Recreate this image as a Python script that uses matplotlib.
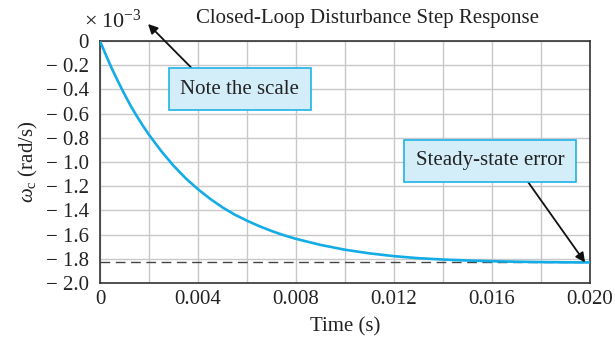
import matplotlib
matplotlib.use("Agg")
import matplotlib.pyplot as plt

plt.rcParams['font.family'] = ['Liberation Serif', 'DejaVu Serif']
plt.rcParams['mathtext.fontset'] = 'custom'
plt.rcParams['mathtext.rm'] = 'Liberation Serif'
plt.rcParams['mathtext.it'] = 'Liberation Serif:italic'

# values (response in units of 1e-3 rad/s)
time_s = [0.0, 0.00025, 0.0005, 0.00075, 0.001, 0.00125, 0.0015, 0.00175,
          0.002, 0.0025, 0.003, 0.0035, 0.004, 0.0045, 0.005, 0.0055, 0.006,
          0.0065, 0.007, 0.0075, 0.008, 0.009, 0.010, 0.011, 0.012, 0.013,
          0.014, 0.015, 0.016, 0.017, 0.018, 0.019, 0.020]
omega_c = [0.0, -0.12, -0.235, -0.34, -0.44, -0.535, -0.62, -0.70,
           -0.775, -0.91, -1.03, -1.135, -1.225, -1.305, -1.375, -1.435, -1.485,
           -1.53, -1.57, -1.605, -1.635, -1.685, -1.725, -1.755, -1.778, -1.795,
           -1.806, -1.814, -1.82, -1.824, -1.827, -1.829, -1.83]
steady_state = -1.83

x_tick_labels = ['0', '0.004', '0.008', '0.012', '0.016', '0.020']
y_ticks = [0, -0.2, -0.4, -0.6, -0.8, -1.0, -1.2, -1.4, -1.6, -1.8, -2.0]
y_tick_labels = ['0', '\u2212 0.2', '\u2212 0.4', '\u2212 0.6', '\u2212 0.8', '\u2212 1.0',
                 '\u2212 1.2', '\u2212 1.4', '\u2212 1.6', '\u2212 1.8', '\u2212 2.0']

FS = 15
TXT = '#222222'

fig = plt.figure(figsize=(6.15, 3.44), dpi=100)
ax = fig.add_axes([0.1626, 0.1773, 0.7967, 0.7035])

ax.plot(time_s, omega_c, color='#14ace6', lw=1.9, zorder=3,
        solid_joinstyle='round')
ax.axhline(steady_state, color='#444444', lw=1.0, ls=(0, (7, 4)), zorder=2)

ax.set_xlim(0, 0.020)
ax.set_ylim(-2.0, 0)
ax.set_xticks([i * 0.002 for i in range(11)])
# label only every other vertical grid line
ax.set_xticklabels([x_tick_labels[i // 2] if i % 2 == 0 else '' for i in range(11)])
ax.set_yticks(y_ticks)
ax.set_yticklabels(y_tick_labels)
ax.grid(True, color='#c8c8c8', lw=1.0)
ax.tick_params(length=0, labelsize=FS, colors=TXT)
ax.tick_params(axis='y', pad=8)
ax.tick_params(axis='x', pad=5)
for s in ax.spines.values():
    s.set_color('#333333')
    s.set_linewidth(1.2)

ax.set_xlabel('Time (s)', fontsize=FS, color=TXT, labelpad=6)
ax.set_ylabel(r'$\omega_{\mathrm{c}}$ (rad/s)', fontsize=FS, color=TXT, labelpad=4)
fig.text(368 / 615, 1 - 18 / 344, 'Closed-Loop Disturbance Step Response',
         fontsize=FS, color=TXT, ha='center', va='center')
fig.text(84 / 615, 1 - 21 / 344, r'$\times\;10^{-3}$', fontsize=16, color=TXT,
         ha='left', va='center')

box = dict(boxstyle='square,pad=0.55', fc='#d3edf9', ec='#1fb3e8', lw=1.2)
ax.annotate('Note the scale', xy=(148 / 615, 1 - 24 / 344), xycoords='figure fraction',
            xytext=(0.00571, -0.397), textcoords='data', fontsize=FS, color=TXT,
            ha='center', va='center', bbox=box, zorder=5,
            arrowprops=dict(arrowstyle='-|>', color='#111111', lw=1.3,
                            mutation_scale=14, shrinkA=0, shrinkB=0,
                            relpos=(0.19, 1.0)))
ax.annotate('Steady-state error', xy=(0.0198, steady_state), xycoords='data',
            xytext=(0.01592, -0.99), textcoords='data', fontsize=FS, color=TXT,
            ha='center', va='center', bbox=box, zorder=5,
            arrowprops=dict(arrowstyle='-|>', color='#111111', lw=1.3,
                            mutation_scale=14, shrinkA=0, shrinkB=0,
                            relpos=(0.70, 0.0)))

fig.savefig('out.png', dpi=100)
